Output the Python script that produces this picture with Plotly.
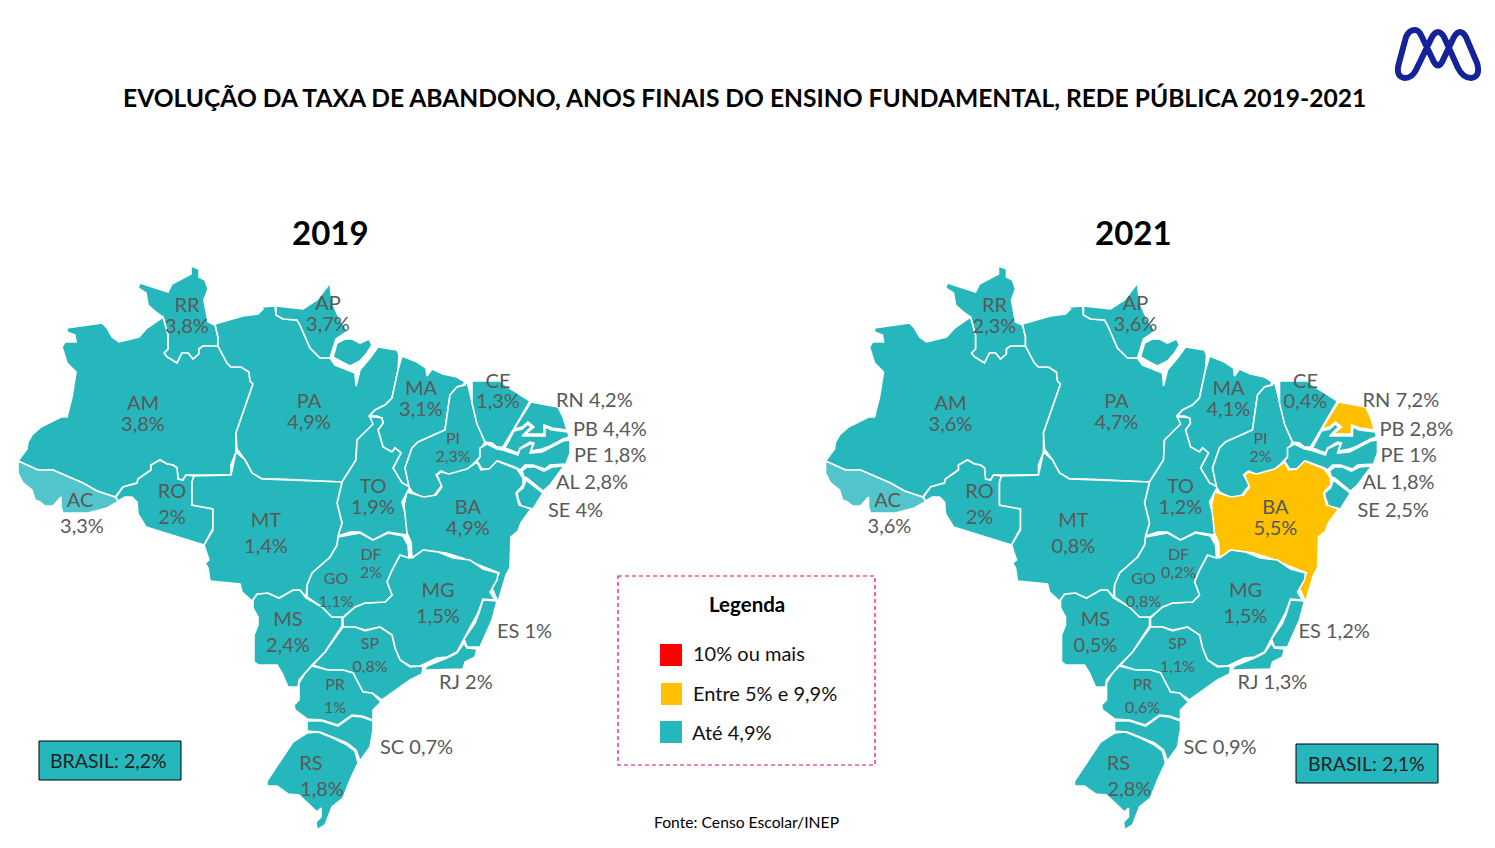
import plotly.graph_objects as go

FONT = "Lato"
TEAL = "#26B7BC"
LIGHT_TEAL = "#52C5CC"
YELLOW = "#FFC000"
RED = "#FF0000"
GREY = "#595959"

states = ["RR", "AP", "AM", "PA", "MA", "CE", "RN", "PB", "PE", "AL", "SE", "PI", "TO", "BA", "AC",
          "RO", "MT", "DF", "GO", "MG", "ES", "RJ", "SP", "MS", "PR", "SC", "RS"]
values_2019 = [3.8, 3.7, 3.8, 4.9, 3.1, 1.3, 4.2, 4.4, 1.8, 2.8, 4, 2.3, 1.9, 4.9, 3.3,
               2, 1.4, 2, 1.1, 1.5, 1, 2, 0.8, 2.4, 1, 0.7, 1.8]
values_2021 = [2.3, 3.6, 3.6, 4.7, 4.1, 0.4, 7.2, 2.8, 1, 1.8, 2.5, 2, 1.2, 5.5, 3.6,
               2, 0.8, 0.2, 0.8, 1.5, 1.2, 1.3, 1.1, 0.5, 0.6, 0.9, 2.8]

RR = [(140,283),(168,292),(172,284),(191,274),(191,266),(199,269),(199,277),(205,280),(208,289),(204,300),(208,322),(215,325),(218,337),(218,346),(203,346),(199,349),(199,354),(193,359),(188,353),(182,353),(177,363),(167,357),(164,353),(168,349),(168,335),(163,317),(157,313),(148,305),(146,293),(138,288)]
AM = [(67,328),(102,323),(107,328),(112,337),(119,342),(139,337),(147,328),(161,318),(163,317),(168,335),(168,349),(164,353),(167,357),(177,363),(182,353),(188,353),(193,359),(199,354),(199,349),(203,346),(218,346),(227,363),(231,367),(241,367),(249,372),(250,381),(253,384),(236,433),(236,452),(231,465),(231,475),(186,475),(183,480),(178,479),(177,468),(173,465),(167,464),(160,460),(151,465),(151,470),(138,479),(137,483),(123,487),(115,497),(97,491),(83,483),(53,470),(38,470),(18,461),(27,449),(28,442),(32,435),(41,427),(61,417),(67,417),(72,397),(76,372),(67,363),(62,347),(65,342),(76,342),(75,335),(67,332)]
AC = [(18,461),(38,470),(53,470),(83,483),(97,491),(115,497),(119,501),(107,508),(88,513),(63,513),(61,507),(61,497),(53,506),(45,506),(40,502),(35,500),(32,490),(23,483),(18,473)]
RO = [(116,497),(123,487),(137,483),(138,479),(151,470),(151,465),(160,460),(167,464),(173,465),(177,468),(178,479),(183,480),(186,475),(194,476),(192,482),(192,505),(213,509),(213,528),(204,545),(163,532),(146,527),(138,514),(137,502),(132,497),(125,497),(118,501)]
PA = [(215,324),(243,316),(258,314),(263,309),(261,307),(275,306),(276,315),(283,319),(297,320),(300,325),(310,348),(320,358),(330,358),(335,365),(355,373),(356,386),(360,370),(370,358),(378,347),(397,350),(399,355),(398,370),(392,398),(385,405),(375,410),(369,416),(375,423),(357,440),(356,460),(342,482),(280,479),(262,479),(252,473),(245,460),(237,449),(236,433),(253,384),(250,381),(249,372),(241,367),(231,367),(227,363),(218,346),(218,337)]
AP = [(276,306),(303,309),(317,300),(330,283),(332,302),(340,320),(348,331),(336,339),(330,358),(320,358),(310,348),(300,325),(297,320),(283,319),(276,315)]
MARAJO = [(333,357),(337,343),(345,339),(352,339),(360,343),(369,339),(372,345),(367,353),(360,361),(350,366),(342,362)]
MA = [(402,356),(417,362),(426,368),(427,376),(432,369),(443,374),(457,377),(465,382),(463,385),(457,387),(450,395),(445,430),(418,442),(412,448),(405,468),(410,487),(402,483),(393,468),(401,453),(395,448),(392,452),(383,447),(378,430),(383,423),(382,418),(377,416),(370,416),(375,410),(385,405),(392,398),(398,370)]
TO = [(376,417),(382,418),(383,423),(378,430),(383,447),(392,452),(395,448),(401,453),(393,468),(402,483),(410,487),(402,502),(407,520),(407,535),(388,532),(373,540),(360,532),(350,532),(338,536),(342,523),(337,503),(342,482),(356,460),(357,440),(373,424),(370,417)]
PI = [(467,381),(472,403),(477,423),(485,442),(482,447),(480,457),(467,470),(450,475),(441,471),(436,475),(442,485),(433,497),(422,497),(412,492),(409,487),(405,468),(412,448),(418,442),(445,430),(450,395),(457,387),(465,385)]
CE = [(472,381),(500,381),(508,387),(530,401),(515,427),(503,447),(497,447),(492,443),(485,442),(477,424),(472,403)]
RN = [(531,402),(543,404),(558,407),(563,417),(567,430),(552,428),(544,425),(544,434),(525,434),(534,427),(528,422),(522,427),(514,429)]
PB = [(514,431),(522,429),(528,424),(531,427),(522,436),(545,436),(545,427),(552,430),(568,432),(569,437),(563,439),(550,446),(542,449),(531,451),(534,443),(530,442),(520,448),(518,453),(505,448)]
PE = [(487,444),(497,449),(503,450),(518,455),(520,449),(530,444),(533,444),(530,453),(542,452),(550,448),(563,441),(570,440),(570,453),(566,464),(550,465),(545,469),(533,465),(525,465),(520,470),(517,468),(498,461),(492,469),(482,469),(477,461),(480,457),(480,448)]
AL = [(522,471),(527,467),(535,467),(544,471),(552,467),(564,466),(550,485),(543,491),(527,478),(524,477)]
SE = [(526,480),(543,493),(533,509),(521,506),(518,498),(517,493),(523,488)]
BA = [(407,492),(424,497),(436,495),(442,487),(437,475),(441,472),(449,474),(467,469),(477,462),(481,470),(489,469),(497,461),(517,469),(523,478),(523,485),(516,493),(519,505),(531,509),(521,523),(518,531),(511,537),(510,568),(506,575),(498,602),(492,588),(499,573),(479,565),(462,558),(446,553),(424,550),(412,558),(411,542),(407,533),(404,505)]
MG = [(412,558),(423,550),(438,552),(453,558),(470,560),(483,569),(498,573),(497,580),(490,592),(495,600),(483,599),(478,613),(465,637),(457,652),(447,657),(437,658),(420,666),(410,666),(400,660),(395,648),(392,635),(380,627),(365,630),(355,627),(343,627),(343,618),(355,607),(365,603),(385,602),(392,595),(387,582),(392,570),(400,555)]
ES = [(483,600),(497,601),(492,620),(480,647),(467,647),(464,639),(475,623),(479,613)]
RJ = [(464,643),(467,648),(477,649),(475,657),(465,662),(463,669),(427,670),(423,672),(427,666),(447,658),(457,653)]
SP = [(343,627),(355,627),(365,631),(380,627),(392,635),(395,648),(400,660),(410,667),(422,666),(423,668),(422,674),(410,680),(382,700),(372,693),(363,692),(353,673),(343,670),(328,670),(313,665),(325,652)]
PR = [(312,666),(328,670),(343,670),(353,673),(363,692),(372,693),(381,702),(373,710),(373,720),(362,716),(352,715),(338,725),(322,720),(307,719),(295,710),(294,705),(299,700),(299,683),(305,673)]
SC = [(307,721),(322,721),(338,726),(352,716),(362,717),(373,721),(373,730),(370,747),(360,761),(356,750),(347,743),(333,737),(320,732),(307,731)]
RS = [(307,733),(318,732),(333,738),(347,745),(355,751),(358,763),(350,780),(343,798),(332,807),(325,825),(317,830),(316,822),(321,817),(321,808),(317,812),(299,795),(288,794),(277,786),(267,786),(267,781),(293,742)]
MS = [(253,600),(257,594),(268,593),(279,598),(293,590),(300,590),(306,598),(322,607),(332,617),(342,617),(342,626),(325,652),(312,665),(299,680),(298,687),(288,687),(282,673),(277,665),(258,665),(254,662),(254,635),(258,625),(258,617),(253,608)]
GO = [(338,537),(360,533),(373,540),(388,533),(403,536),(408,545),(409,558),(400,555),(392,570),(387,582),(392,595),(385,602),(365,603),(355,607),(343,617),(332,617),(322,607),(307,597),(307,585),(312,573),(330,557),(337,545)]
MT = [(194,476),(231,475),(236,452),(245,460),(252,473),(262,479),(342,482),(337,503),(342,523),(338,536),(337,545),(330,557),(312,573),(307,585),(306,597),(300,590),(293,590),(279,598),(268,593),(257,594),(252,601),(242,592),(240,584),(210,581),(208,568),(205,563),(209,560),(204,545),(213,530),(213,509),(192,505),(192,482)]

outlines = {"RR": RR, "AM": AM, "AC": AC, "RO": RO, "PA": PA, "AP": AP, "MARAJO": MARAJO, "MA": MA, "TO": TO,
            "PI": PI, "CE": CE, "RN": RN, "PB": PB, "PE": PE, "AL": AL, "SE": SE, "BA": BA, "MG": MG, "ES": ES,
            "RJ": RJ, "SP": SP, "PR": PR, "SC": SC, "RS": RS, "MS": MS, "GO": GO, "MT": MT}

# label spots: name x, name y, value x, value y, font size
inside_labels = {
    "RR": (187, 307, 187, 328, 20), "AP": (328, 305, 328, 326, 20), "AM": (143, 405, 143, 426, 20),
    "PA": (309, 403, 309, 424, 20), "MA": (421, 390, 421, 411, 20), "CE": (498, 383, 498, 403, 20),
    "PI": (453, 440, 453, 458, 16), "TO": (373, 488, 373, 509, 20), "BA": (468, 509, 468, 530, 20),
    "AC": (80, 502, 82, 528, 20), "RO": (172, 493, 172, 519, 20), "MT": (266, 522, 266, 548, 20),
    "DF": (371, 556, 371, 574, 16), "GO": (336, 580, 336, 603, 16), "MG": (438, 592, 438, 618, 20),
    "MS": (288, 621, 288, 647, 20), "SP": (370, 645, 370, 668, 16), "PR": (335, 686, 335, 709, 16),
    "RS": (311, 765, 322, 791, 20),
}
outside_2019 = {"RN": (556, 402), "PB": (573, 431), "PE": (574, 457), "AL": (556, 484),
                "SE": (548, 512), "ES": (497, 633), "RJ": (439, 684), "SC": (380, 749)}
outside_2021 = {"RN": (555, 402), "PB": (572, 431), "PE": (573, 457), "AL": (555, 484),
                "SE": (550, 512), "ES": (491, 633), "RJ": (430, 684), "SC": (376, 749)}


def fmt(v):
    return f"{v:g}%".replace(".", ",")


def state_color(st, v):
    if v >= 10:
        return RED
    if v >= 5:
        return YELLOW
    return LIGHT_TEAL if st == "AC" else TEAL


fig = go.Figure()


def add_map(values, outside, xaxis):
    val = dict(zip(states, values))
    for name, pts in outlines.items():
        st = "PA" if name == "MARAJO" else name
        fig.add_trace(go.Scatter(
            x=[p[0] for p in pts] + [pts[0][0]],
            y=[p[1] for p in pts] + [pts[0][1]],
            xaxis=xaxis, yaxis="y",
            mode="lines", fill="toself",
            fillcolor=state_color(st, val[st]),
            line=dict(color="white", width=1.6),
            hoverinfo="skip", showlegend=False
        ))
    for st, (nx, ny, vx, vy, size) in inside_labels.items():
        fig.add_trace(go.Scatter(
            x=[nx, vx], y=[ny, vy], text=[st, fmt(val[st])],
            xaxis=xaxis, yaxis="y", mode="text", textposition="middle center",
            textfont=dict(family=FONT, size=size, color=GREY),
            hoverinfo="skip", showlegend=False
        ))
    for st, (x, y) in outside.items():
        fig.add_trace(go.Scatter(
            x=[x], y=[y], text=[f"{st} {fmt(val[st])}"],
            xaxis=xaxis, yaxis="y", mode="text", textposition="middle right",
            textfont=dict(family=FONT, size=20, color=GREY),
            hoverinfo="skip", showlegend=False
        ))


add_map(values_2019, outside_2019, "x")
add_map(values_2021, outside_2021, "x2")


def note(x, y, text, size, color="black", bold=False, anchor="center"):
    fig.add_annotation(x=x, y=y, xref="x", yref="y", text=f"<b>{text}</b>" if bold else text,
                       showarrow=False, xanchor=anchor, yanchor="middle",
                       font=dict(family=FONT, size=size, color=color))


note(744, 97, "EVOLUÇÃO DA TAXA DE ABANDONO, ANOS FINAIS DO ENSINO FUNDAMENTAL, REDE PÚBLICA 2019-2021", 24.6, bold=True)
note(330, 232, "2019", 33, bold=True)
note(1133, 232, "2021", 33, bold=True)
note(746, 822, "Fonte: Censo Escolar/INEP", 15.7)

# legend box
shapes = [
    dict(type="rect", x0=618, x1=875, y0=576, y1=765, line=dict(color="#E6007E", width=1.2, dash="4px,3px")),
    dict(type="rect", x0=660, x1=682, y0=644, y1=666, fillcolor=RED, line=dict(width=0)),
    dict(type="rect", x0=661, x1=682, y0=683, y1=705, fillcolor=YELLOW, line=dict(width=0)),
    dict(type="rect", x0=660, x1=682, y0=721, y1=743, fillcolor=TEAL, line=dict(width=0)),
    dict(type="rect", x0=39, x1=181, y0=741, y1=780, fillcolor=TEAL, line=dict(color="black", width=1)),
    dict(type="rect", x0=1296, x1=1438, y0=744, y1=783, fillcolor=TEAL, line=dict(color="black", width=1)),
    # logo
    dict(type="path", line=dict(color="#15239A", width=6),
         path="M 1415 30 Q 1409 30 1406 37 L 1399 63 Q 1395 77 1405 78 Q 1412 78 1416 70 L 1432 37 "
              "Q 1438 27 1444 37 L 1458 68 Q 1463 78 1471 78 Q 1481 77 1477 63 L 1466 37 "
              "Q 1460 27 1454 37 L 1442 62 Q 1438 69 1434 62 L 1422 37 Q 1419 30 1415 30 Z"),
]
for s in shapes:
    s.update(xref="x", yref="y")

note(747, 604, "Legenda", 20.5, bold=True)
note(691, 653, "10% ou mais", 20, color="#111111", anchor="left")
note(691, 693, "Entre 5% e 9,9%", 20, color="#111111", anchor="left")
note(690, 732, "Até 4,9%", 20, color="#111111", anchor="left")
note(108, 760, "BRASIL: 2,2%", 19.5, color="#222222")
note(1366, 763, "BRASIL: 2,1%", 19.5, color="#222222")

# the page body keeps an 8px margin, so the canvas starts at 8,8
hidden = dict(visible=False, fixedrange=True)
fig.update_layout(
    width=1487, height=840,
    margin=dict(l=0, r=0, t=0, b=0),
    paper_bgcolor="white", plot_bgcolor="white",
    showlegend=False,
    shapes=shapes,
    xaxis=dict(range=[8, 1495], domain=[0, 1], **hidden),
    xaxis2=dict(range=[-799.5, 687.5], domain=[0, 1], overlaying="x", **hidden),
    yaxis=dict(range=[848, 8], domain=[0, 1], **hidden),
)

fig.write_html("out.html")
